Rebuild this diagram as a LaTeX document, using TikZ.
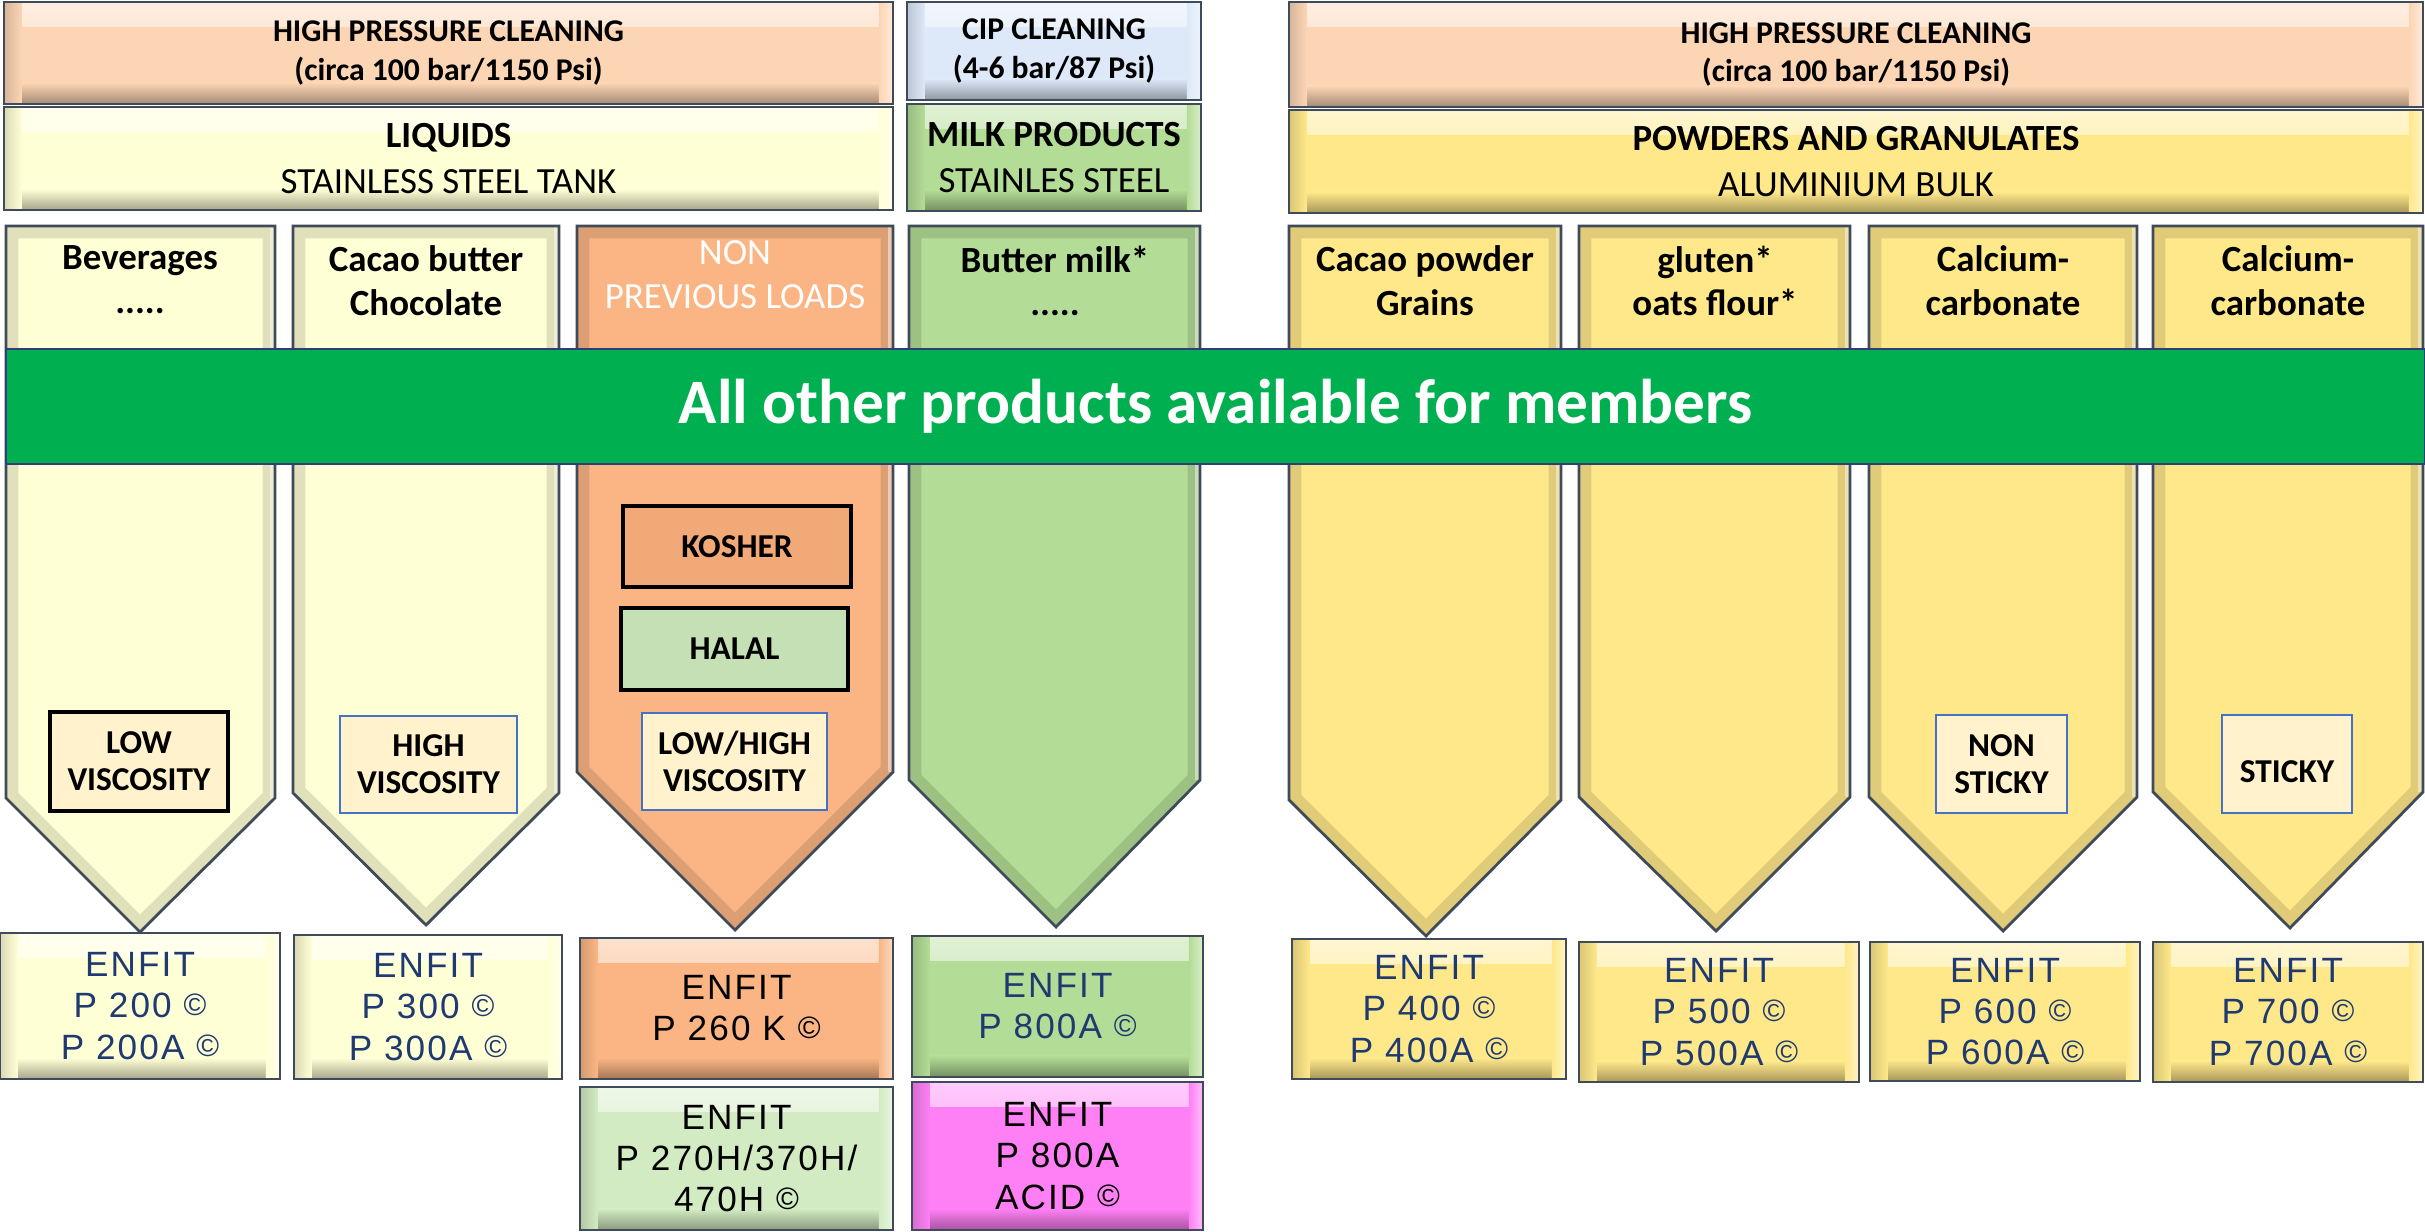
\documentclass[tikz,border=0pt]{standalone}
\usepackage{fontspec}
\setmainfont{Carlito}
\newfontfamily\enfitfont[LetterSpace=6]{Liberation Sans}
\definecolor{peach}{HTML}{FCD5B4}
\definecolor{lyellow}{HTML}{FFFFD6}
\definecolor{lblue}{HTML}{DDE8F8}
\definecolor{mgreen}{HTML}{B3DC96}
\definecolor{gold}{HTML}{FFE88A}
\definecolor{orangec}{HTML}{FBB584}
\definecolor{kosherc}{HTML}{F2A978}
\definecolor{halalc}{HTML}{C5E0B4}
\definecolor{cream}{HTML}{FFF2CC}
\definecolor{pgreen}{HTML}{D2EBC2}
\definecolor{magentac}{HTML}{FF80F5}
\definecolor{bannerc}{HTML}{00B050}
\definecolor{edgec}{HTML}{404B5A}
\definecolor{navy}{HTML}{1F3A70}
\definecolor{bluebord}{HTML}{4472C4}
\newcommand\cpy{\raisebox{0.6pt}{\fontsize{8.8}{9}\selectfont\textcopyright}}
\tikzset{
  bev/.style={draw=edgec, line width=0.8pt, fill=#1, inner sep=0pt, align=center,
    path picture={
      \fill[top color=white!60!#1, bottom color=#1]
        (path picture bounding box.north west) rectangle ([yshift=-7pt]path picture bounding box.north east);
      \fill[top color=#1, bottom color=black!35!#1]
        ([yshift=6pt]path picture bounding box.south west) rectangle (path picture bounding box.south east);
      \fill[left color=black!15!#1, right color=#1]
        (path picture bounding box.north west) rectangle ([xshift=5pt]path picture bounding box.south west);
      \fill[left color=#1, right color=white!50!#1]
        ([xshift=-4pt]path picture bounding box.north east) rectangle (path picture bounding box.south east);
    }},
  htop/.style={font=\fontsize{9}{11}\selectfont\bfseries},
  hsub/.style={font=\fontsize{10.5}{13}\selectfont},
  coltext/.style={font=\fontsize{10.5}{12.4}\selectfont\bfseries, align=center, inner sep=0pt, anchor=north},
  ibox/.style={draw=#1, line width=1pt, fill=cream, inner sep=0pt, align=center,
    font=\fontsize{9.5}{10.6}\selectfont\bfseries},
  enfit/.style={font=\enfitfont\fontsize{10}{11.7}\selectfont, text=#1},
  bannerst/.style={fill=bannerc, draw=edgec!80!blue, line width=0.8pt, inner sep=0pt,
    text=white, font=\fontsize{18}{20}\selectfont\bfseries},
}
% box: #1 name, #2 style, #3 x1, #4 y1, #5 x2, #6 y2, #7 text
\newcommand\bx[7]{%
  \node[#2, minimum width={(#5-#3)*0.1mm}, minimum height={(#6-#4)*0.1mm}]
    (#1) at ({(#3+#5)/2},{(#4+#6)/2}) {#7};}
% column arrow: #1 x1, #2 x2, #3 shoulder y, #4 tip x, #5 tip y, #6 colour
\newcommand\colarrow[6]{%
  \fill[#6] (#1,226) -- (#2,226) -- (#2,#3) -- (#4,#5) -- (#1,#3) -- cycle;
  \begin{scope}
    \clip (#1,226) -- (#2,226) -- (#2,#3) -- (#4,#5) -- (#1,#3) -- cycle;
    \draw[line width=7pt, black, opacity=0.12] (#1,226) -- (#2,226) -- (#2,#3) -- (#4,#5) -- (#1,#3) -- cycle;
    \draw[line width=3pt, white, opacity=0.45] (#2,226) -- (#2,#3);
  \end{scope}
  \draw[edgec, line width=0.8pt, line join=miter] (#1,226) -- (#2,226) -- (#2,#3) -- (#4,#5) -- (#1,#3) -- cycle;
}
\begin{document}
\begin{tikzpicture}[x=0.1mm, y=-0.1mm]
\useasboundingbox (0,0) rectangle (2425,1232);
\fill[white] (0,0) rectangle (2425,1232);

% headers
\bx{hL}{bev=peach, htop}{4}{2}{893}{104}{HIGH PRESSURE CLEANING\\(circa 100 bar/1150 Psi)}
\bx{liq}{bev=lyellow, hsub}{4}{107}{893}{210}{\textbf{LIQUIDS}\\STAINLESS STEEL TANK}
\bx{cip}{bev=lblue, htop}{907}{2}{1201}{100}{CIP CLEANING\\(4-6 bar/87 Psi)}
\bx{milk}{bev=mgreen, hsub}{907}{104}{1201}{211}{\textbf{MILK PRODUCTS}\\STAINLES STEEL}
\bx{hR}{bev=peach, htop}{1289}{2}{2423}{107}{HIGH PRESSURE CLEANING\\(circa 100 bar/1150 Psi)}
\bx{pow}{bev=gold, hsub}{1289}{110}{2423}{213}{\textbf{POWDERS AND GRANULATES}\\ALUMINIUM BULK}

% columns
\colarrow{6}{275}{798}{140}{932}{lyellow}
\colarrow{293}{559}{793}{426}{925}{lyellow}
\colarrow{577}{893}{772}{735}{930}{orangec}
\colarrow{909}{1200}{780}{1056}{927}{mgreen}
\colarrow{1289}{1561}{800}{1426}{936}{gold}
\colarrow{1579}{1850}{797}{1716}{931}{gold}
\colarrow{1869}{2137}{797}{2003}{931}{gold}
\colarrow{2153}{2423}{792}{2290}{928}{gold}

\node[coltext] (c1) at (140,245) {Beverages\\.....};
\node[coltext] (c2) at (426,245) {Cacao butter\\Chocolate};
\node[coltext, text=white, font=\fontsize{10.5}{12.4}\selectfont] (c3) at (735,240) {NON\\PREVIOUS LOADS};
\node[coltext] (c4) at (1055,245) {Butter milk*\\.....};
\node[coltext] (c5) at (1425,245) {Cacao powder\\Grains};
\node[coltext] (c6) at (1715,245) {gluten*\\oats flour*};
\node[coltext] (c7) at (2003,245) {Calcium-\\carbonate};
\node[coltext] (c8) at (2288,245) {Calcium-\\carbonate};

% inner boxes
\bx{lowv}{ibox=black}{50}{712}{228}{811}{LOW\\VISCOSITY}
\bx{highv}{ibox=bluebord, line width=0.7pt}{340}{716}{517}{813}{HIGH\\VISCOSITY}
\bx{kosher}{ibox=black, fill=kosherc}{623}{506}{851}{587}{KOSHER}
\bx{halal}{ibox=black, fill=halalc}{621}{608}{848}{690}{HALAL}
\bx{lowhigh}{ibox=bluebord, line width=0.7pt}{642}{713}{827}{810}{LOW/HIGH\\VISCOSITY}
\bx{nonsticky}{ibox=bluebord, line width=0.7pt}{1936}{715}{2067}{813}{NON\\STICKY}
\bx{sticky}{ibox=bluebord, line width=0.7pt}{2222}{715}{2352}{813}{\mbox{}\\STICKY}

% banner
\bx{banner}{bannerst}{6}{349}{2425}{464}{All other products available for members}

% ENFIT boxes
\bx{b1}{bev=lyellow, enfit=navy}{0}{933}{280}{1079}{ENFIT\\P 200 \cpy\\P 200A \cpy}
\bx{b2}{bev=lyellow, enfit=navy}{294}{935}{562}{1079}{ENFIT\\P 300 \cpy\\P 300A \cpy}
\bx{b3}{bev=orangec, enfit=black}{580}{938}{893}{1079}{ENFIT\\P 260 K \cpy}
\bx{b4}{bev=mgreen, enfit=navy}{912}{936}{1203}{1077}{ENFIT\\P 800A \cpy}
\bx{b5}{bev=pgreen, enfit=black}{580}{1087}{893}{1230}{ENFIT\\P 270H/370H/\\470H \cpy}
\bx{b6}{bev=magentac, enfit=black}{912}{1082}{1203}{1230}{ENFIT\\P 800A\\ACID \cpy}
\bx{b7}{bev=gold, enfit=navy}{1292}{939}{1566}{1079}{ENFIT\\P 400 \cpy\\P 400A \cpy}
\bx{b8}{bev=gold, enfit=navy}{1579}{942}{1859}{1082}{ENFIT\\P 500 \cpy\\P 500A \cpy}
\bx{b9}{bev=gold, enfit=navy}{1870}{942}{2140}{1081}{ENFIT\\P 600 \cpy\\P 600A \cpy}
\bx{b10}{bev=gold, enfit=navy}{2153}{942}{2423}{1082}{ENFIT\\P 700 \cpy\\P 700A \cpy}
\end{tikzpicture}
\end{document}
